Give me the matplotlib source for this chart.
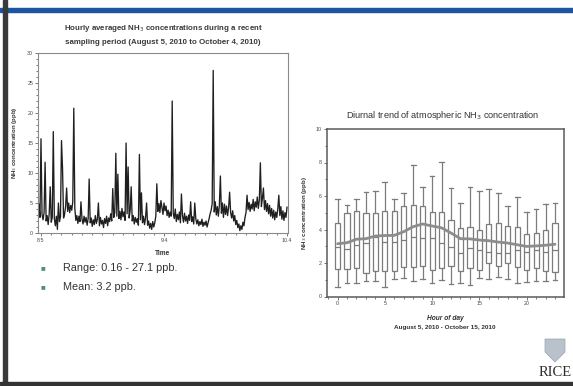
import numpy as np
import matplotlib
matplotlib.use("Agg")
import matplotlib.pyplot as plt
from matplotlib.patches import Rectangle, Polygon
from matplotlib.ticker import MultipleLocator

plt.rcParams["font.family"] = ["Liberation Sans", "DejaVu Sans"]

W, H = 573, 386

# --- hourly NH3 record, Aug 5 - Oct 4 2010 (sampled every 6 h, ppb) ---
nh3_series = [
    4.8, 2.6, 15.7, 3.1, 2.2, 3.4, 11.8, 2.0,
    2.9, 1.4, 3.2, 7.7, 1.8, 2.6, 16.9, 2.4,
    1.2, 2.8, 0.6, 5.0, 1.9, 2.7, 15.4, 10.8,
    2.5, 3.1, 4.4, 7.5, 3.6, 5.0, 3.4, 4.6,
    3.8, 5.2, 20.8, 4.1, 2.1, 2.9, 1.6, 2.8,
    1.9, 5.2, 2.3, 1.5, 2.8, 1.8, 2.6, 1.3,
    2.4, 9.0, 1.7, 2.5, 1.1, 2.2, 1.4, 2.9,
    1.6, 2.3, 5.0, 1.2, 2.6, 1.5, 2.1, 0.9,
    2.4, 1.6, 2.8, 1.2, 2.5, 1.9, 3.2, 2.0,
    7.4, 2.6, 3.4, 13.3, 2.8, 9.8, 2.4, 3.6,
    2.2, 4.1, 2.7, 3.5, 2.1, 15.0, 3.2, 11.0,
    2.5, 3.8, 7.7, 2.0, 2.9, 1.5, 2.6, 1.8,
    2.4, 1.3, 13.1, 2.2, 6.7, 1.7, 2.8, 1.4,
    2.5, 5.0, 1.3, 2.0, 0.8, 1.6, 0.6, 1.9,
    1.0, 1.7, 2.8, 8.2, 3.6, 4.9, 3.4, 5.4,
    4.2, 3.1, 5.0, 3.7, 4.5, 2.9, 3.8, 2.6,
    3.5, 2.8, 22.0, 3.3, 2.4, 4.0, 1.9, 3.1,
    2.2, 3.5, 1.7, 6.5, 2.9, 1.8, 3.3, 2.0,
    2.8, 1.6, 3.0, 2.1, 5.2, 1.9, 2.7, 1.5,
    5.0, 2.4, 1.5, 2.2, 1.2, 1.9, 1.4, 2.3,
    1.1, 1.8, 1.3, 2.0, 1.0, 1.7, 2.4, 3.2,
    3.8, 4.9, 27.1, 3.5, 5.2, 3.0, 4.4, 2.8,
    4.6, 9.5, 3.3, 5.0, 2.6, 4.8, 3.1, 4.5,
    2.9, 4.2, 6.8, 3.4, 2.5, 3.7, 2.0, 2.9,
    1.4, 2.1, 0.9, 1.5, 0.4, 1.2, 0.6, 1.8,
    1.2, 2.6, 3.4, 6.3, 3.9, 5.1, 3.6, 4.8,
    4.0, 5.6, 3.7, 5.2, 4.3, 6.0, 4.1, 5.5,
    11.7, 4.4, 5.8, 7.5, 3.9, 5.4, 3.6, 4.9,
    3.2, 4.6, 2.8, 4.1, 2.5, 3.8, 2.2, 3.5,
    2.6, 4.0, 6.3, 2.9, 4.4, 2.3, 3.7, 2.1,
    3.4, 2.6, 4.3,
]
days = -0.5 + 0.25 * np.arange(len(nh3_series))   # days since Aug 5
time_ticks = [0, 30, 60]
time_labels = ["8.5", "9.4", "10.4"]

# --- diurnal box statistics, Aug 5 - Oct 15 2010 (ppb) ---
hours = list(range(24))
whis_lo = [0.59, 0.82, 0.83, 0.93, 0.95, 0.59, 1.04, 1.12, 0.95, 1.02, 0.82, 0.99,
           0.75, 0.79, 0.69, 1.08, 1.04, 1.14, 1.04, 0.79, 0.89, 0.95, 0.93, 0.99]
q1 = [1.62, 1.62, 1.68, 1.42, 1.52, 1.54, 1.52, 1.78, 1.78, 1.84, 1.58, 1.68,
      1.82, 1.54, 1.68, 1.58, 1.98, 1.82, 1.98, 1.78, 1.58, 1.68, 1.52, 1.48]
median = [2.97, 2.81, 3.07, 3.17, 3.57, 3.27, 3.27, 3.37, 3.57, 3.47, 3.47, 3.21,
          2.97, 2.58, 2.88, 2.78, 2.68, 2.58, 2.58, 2.78, 2.68, 2.78, 2.68, 2.78]
q3 = [4.41, 4.97, 5.12, 4.97, 5.00, 5.12, 5.12, 5.40, 5.44, 5.40, 5.06, 5.06,
      4.57, 4.07, 4.13, 3.97, 4.33, 4.37, 4.21, 4.13, 3.73, 3.77, 3.97, 4.41]
whis_hi = [5.82, 5.46, 5.80, 6.26, 6.30, 6.82, 5.82, 6.20, 7.84, 6.56, 7.19, 8.01,
           6.50, 5.60, 6.52, 6.30, 6.42, 6.20, 5.40, 5.92, 5.06, 5.22, 5.50, 5.56]
mean_conc = [3.15, 3.21, 3.42, 3.45, 3.61, 3.64, 3.65, 3.87, 4.17, 4.33, 4.21, 4.10,
             3.79, 3.45, 3.44, 3.37, 3.33, 3.25, 3.19, 3.09, 2.99, 3.02, 3.06, 3.12]


def fx(x):
    return x / W


def fy(y):
    return 1 - y / H


fig = plt.figure(figsize=(W / 100, H / 100), dpi=100)
fig.patch.set_facecolor("white")

# slide frame: blue rule on top, dark edges left and bottom
fig.add_artist(Rectangle((0, fy(12)), 1, 4 / H, color="#1d55a0", transform=fig.transFigure))
fig.add_artist(Rectangle((fx(3), 0), 4 / W, 1, color="#3a3a3a", transform=fig.transFigure))
fig.add_artist(Rectangle((0, fy(385)), 1, 3 / H, color="#333333", transform=fig.transFigure))

tick_kw = dict(labelsize=3.8, length=2, width=0.5, pad=1.5, colors="#444444")

# ---- left: hourly time series ----
ax1 = fig.add_axes([fx(38), fy(233), 250 / W, 180 / H])
ax1.plot(days, nh3_series, color="#1f1f1f", lw=0.95)
ax1.set_xlim(-0.73, 60.24)
ax1.set_ylim(0, 30)
ax1.set_xticks(time_ticks)
ax1.set_xticklabels(time_labels)
ax1.xaxis.set_minor_locator(MultipleLocator(2.5))
ax1.yaxis.set_major_locator(MultipleLocator(5))
ax1.yaxis.set_minor_locator(MultipleLocator(1))
ax1.tick_params(which="both", **tick_kw)
ax1.tick_params(which="minor", length=1.2)
for s in ax1.spines.values():
    s.set_color("#8a8a8a")
    s.set_linewidth(0.8)
ax1.set_xlabel("Time", fontsize=4.7, fontweight="bold", labelpad=5, color="#333333")
ax1.set_ylabel("NH$_3$ concentration (ppb)", fontsize=4.4, fontweight="bold",
               labelpad=6, color="#333333")

fig.text(fx(163), fy(29), "Hourly averaged NH$_3$ concentrations during a recent",
         ha="center", va="center", fontsize=5.7, fontweight="bold", color="#3a3a3a")
fig.text(fx(163), fy(43), "sampling period (August 5, 2010 to October 4, 2010)",
         ha="center", va="center", fontsize=5.7, fontweight="bold", color="#3a3a3a")

# bullet notes
for yy, txt in [(268, "Range: 0.16 - 27.1 ppb."), (287, "Mean: 3.2 ppb.")]:
    fig.text(fx(43), fy(yy), "\u25a0", ha="center", va="center", fontsize=3.6,
             color="#4f8f7c", family="DejaVu Sans")
    fig.text(fx(63), fy(yy), txt, ha="left", va="center", fontsize=7.8, color="#333333")

# ---- right: diurnal box plot ----
ax2 = fig.add_axes([fx(326.7), fy(296.5), 237.3 / W, 167.5 / H])
stats = [dict(med=m, q1=a, q3=b, whislo=lo, whishi=hi)
         for m, a, b, lo, hi in zip(median, q1, q3, whis_lo, whis_hi)]
box_c = "#7c7c7c"
ax2.bxp(stats, positions=hours, widths=0.55, showfliers=False, patch_artist=True,
        boxprops=dict(facecolor="white", edgecolor=box_c, lw=0.9),
        whiskerprops=dict(color=box_c, lw=0.9),
        capprops=dict(color=box_c, lw=0.9),
        medianprops=dict(color=box_c, lw=0.9),
        capwidths=0.5, manage_ticks=False)
ax2.plot(hours, mean_conc, color="#8c8c8c", lw=2.0, zorder=4, solid_capstyle="round")
ax2.set_xlim(-1.15, 23.95)
ax2.set_ylim(0, 10)
ax2.set_xticks([0, 5, 10, 15, 20])
ax2.xaxis.set_minor_locator(MultipleLocator(1))
ax2.yaxis.set_major_locator(MultipleLocator(2))
ax2.yaxis.set_minor_locator(MultipleLocator(1))
ax2.tick_params(which="both", **tick_kw)
ax2.tick_params(which="minor", length=1.2)
for s in ax2.spines.values():
    s.set_color("#5a5a5a")
    s.set_linewidth(1.1)
ax2.set_ylabel("NH$_3$ concentration (ppb)", fontsize=4.5, fontweight="bold",
               labelpad=5, color="#333333")

fig.text(fx(443), fy(116), "Diurnal trend of atmospheric NH$_3$ concentration",
         ha="center", va="center", fontsize=6.6, color="#333333")
fig.text(fx(445), fy(319), "Hour of day", ha="center", va="center",
         fontsize=4.8, fontweight="bold", fontstyle="italic", color="#333333")
fig.text(fx(445), fy(328), "August 5, 2010 - October 15, 2010", ha="center",
         va="center", fontsize=4.6, fontweight="bold", color="#333333")

# RICE shield and wordmark
shield = Polygon([(fx(545), fy(339)), (fx(565), fy(339)), (fx(565), fy(352)),
                  (fx(555), fy(362)), (fx(545), fy(352))], closed=True,
                 facecolor="#b9c2cc", edgecolor="#9aa6b3", lw=0.5,
                 transform=fig.transFigure)
fig.add_artist(shield)
fig.text(fx(555), fy(372), "RICE", ha="center", va="center", fontsize=10.5,
         family=["Liberation Serif", "DejaVu Serif"], color="#2e2e2e")

fig.savefig("out.png", dpi=100, facecolor="white")
